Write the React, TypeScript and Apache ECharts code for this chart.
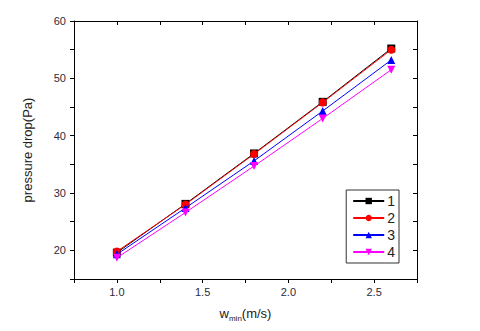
import React, { useEffect, useRef } from "react";
import * as echarts from "echarts";

const xValues = [1.0, 1.4, 1.8, 2.2, 2.6];
const series1 = [19.6, 28.1, 36.9, 45.9, 55.2];
const series2 = [19.8, 28.0, 36.8, 45.8, 55.0];
const series3 = [19.3, 27.4, 35.6, 44.3, 53.2];
const series4 = [18.7, 26.6, 34.7, 43.0, 51.5];
const seriesNames = ["1", "2", "3", "4"];
const seriesColors = ["#000000", "#ff0000", "#0000ff", "#ff00ff"];
const seriesSymbols = ["rect", "circle", "triangle", "path://M0,0 L10,0 L5,9 Z"];

export default function App() {
  const ref = useRef<HTMLDivElement>(null);
  useEffect(() => {
    if (!ref.current) return;
    const chart = echarts.init(ref.current, null, { renderer: "svg" });
    const font = "Liberation Sans, Arial, sans-serif";
    const data = [series1, series2, series3, series4];
    const baseX = {
      type: "value",
      min: 0.75,
      max: 2.75,
      interval: 0.25,
      splitLine: { show: false },
      axisLine: { show: true, lineStyle: { color: "#000", width: 1 } },
    };
    const baseY = {
      type: "value",
      min: 15,
      max: 60,
      interval: 5,
      splitLine: { show: false },
      axisLine: { show: true, lineStyle: { color: "#000", width: 1 } },
    };
    chart.setOption({
      animation: false,
      backgroundColor: "#fff",
      grid: { left: 74, right: 63, top: 21, bottom: 52, containLabel: false },
      xAxis: [
        {
          ...baseX,
          position: "bottom",
          axisTick: { show: true, inside: false, length: 4, lineStyle: { color: "#000" } },
          axisLabel: {
            fontFamily: font,
            fontSize: 11,
            color: "#2b2b3a",
            margin: 7,
            formatter: (v: number) =>
              Math.abs(v * 2 - Math.round(v * 2)) < 1e-6 ? v.toFixed(1) : "",
          },
          name: "w{sub|min}(m/s)",
          nameLocation: "middle",
          nameGap: 25,
          nameTextStyle: {
            fontFamily: font,
            fontSize: 13,
            color: "#222",
            rich: {
              sub: { fontFamily: font, fontSize: 8, color: "#222", padding: [10, 0, 0, 0] },
            },
          },
        },
        {
          ...baseX,
          position: "top",
          axisTick: { show: true, inside: true, length: 4, lineStyle: { color: "#000" } },
          axisLabel: { show: false },
        },
      ],
      yAxis: [
        {
          ...baseY,
          position: "left",
          axisTick: { show: true, inside: false, length: 4, lineStyle: { color: "#000" } },
          axisLabel: {
            fontFamily: font,
            fontSize: 11,
            color: "#2b2b3a",
            margin: 8,
            formatter: (v: number) => (v % 10 === 0 ? String(v) : ""),
          },
          name: "pressure drop(Pa)",
          nameLocation: "middle",
          nameGap: 40,
          nameTextStyle: { fontFamily: font, fontSize: 13, color: "#222" },
        },
        {
          ...baseY,
          position: "right",
          axisTick: { show: true, inside: true, length: 4, lineStyle: { color: "#000" } },
          axisLabel: { show: false },
        },
      ],
      legend: {
        orient: "vertical",
        right: 81,
        top: 190,
        itemWidth: 31,
        itemHeight: 8,
        itemGap: 3,
        padding: [4, 4, 4, 6],
        borderColor: "#333",
        borderWidth: 1,
        backgroundColor: "#fff",
        textStyle: { fontFamily: font, fontSize: 14, color: "#222", padding: [0, 0, 0, -2] },
        data: seriesNames,
      },
      series: data.map((d, i) => ({
        name: seriesNames[i],
        type: "line",
        xAxisIndex: 0,
        yAxisIndex: 0,
        data: xValues.map((x, j) => [x, d[j]]),
        symbol: seriesSymbols[i],
        symbolSize: 8,
        lineStyle: { color: seriesColors[i], width: 1 },
        itemStyle: { color: seriesColors[i] },
        z: 2 + i,
      })),
    });
    return () => chart.dispose();
  }, []);
  return (
    <div
      ref={ref}
      style={{ position: "fixed", left: 0, top: 0, width: 480, height: 331 }}
    />
  );
}
